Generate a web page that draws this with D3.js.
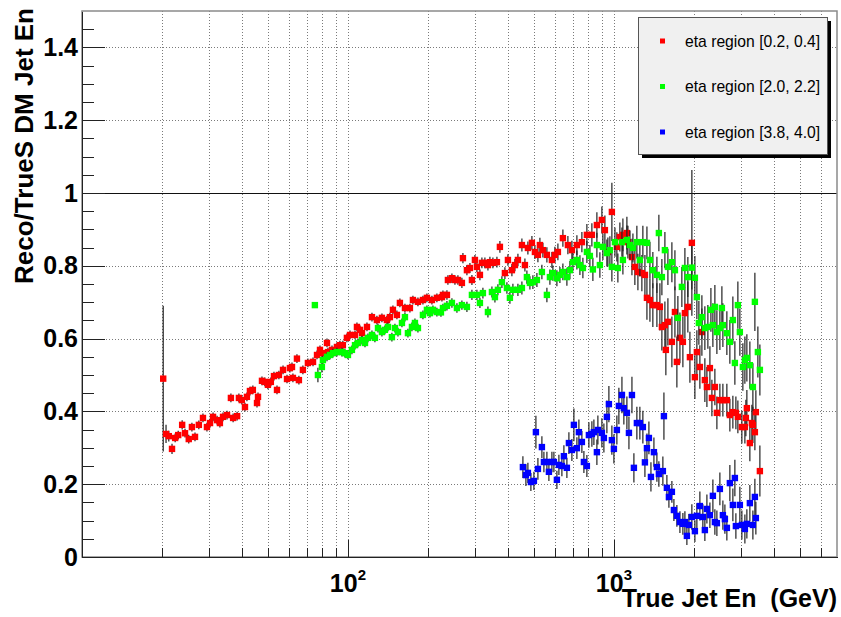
<!DOCTYPE html>
<html>
<head>
<meta charset="utf-8">
<script src="https://cdn.jsdelivr.net/npm/d3@7"></script>
<style>
body { margin: 0; background: #fff; }
svg { display: block; }
</style>
</head>
<body>
<script>
// [true jet energy (GeV), reco/true ratio, error]
var redPts = [[20.2,0.49,0.2],[20.7,0.338,0.025],[21.2,0.332,0.015],[21.8,0.297,0.014],[22.4,0.327,0.012],[23.0,0.335,0.012],[23.8,0.363,0.013],[24.4,0.34,0.012],[25.2,0.324,0.012],[25.9,0.357,0.012],[26.6,0.33,0.012],[27.5,0.363,0.012],[28.5,0.382,0.012],[29.5,0.357,0.012],[30.3,0.368,0.012],[31.1,0.385,0.012],[32.2,0.376,0.012],[33.0,0.368,0.012],[33.9,0.385,0.012],[35.1,0.39,0.012],[36.3,0.437,0.012],[37.0,0.382,0.012],[38.3,0.387,0.012],[38.9,0.437,0.012],[39.9,0.431,0.012],[41.0,0.412,0.012],[41.7,0.44,0.012],[42.8,0.456,0.012],[43.9,0.459,0.012],[45.5,0.423,0.012],[45.9,0.44,0.012],[47.5,0.484,0.012],[48.7,0.481,0.012],[50.0,0.473,0.012],[51.3,0.481,0.012],[52.7,0.497,0.012],[54.1,0.459,0.012],[55.0,0.5,0.012],[57.0,0.514,0.012],[59.0,0.489,0.012],[60.5,0.519,0.012],[61.6,0.522,0.012],[62.1,0.492,0.012],[64.3,0.545,0.012],[65.4,0.486,0.012],[67.7,0.514,0.012],[70.7,0.533,0.012],[73.9,0.536,0.012],[76.5,0.555,0.012],[78.5,0.569,0.012],[79.8,0.56,0.012],[83.4,0.588,0.012],[84.1,0.563,0.012],[87.1,0.569,0.012],[90.9,0.577,0.012],[93.3,0.582,0.012],[95.7,0.582,0.012],[99.1,0.602,0.012],[101.8,0.61,0.012],[106.3,0.61,0.012],[108.1,0.632,0.012],[111.0,0.624,0.012],[112.9,0.615,0.012],[117.9,0.632,0.012],[123.1,0.659,0.012],[128.5,0.651,0.012],[134.2,0.657,0.012],[140.1,0.651,0.012],[143.8,0.659,0.012],[147.6,0.679,0.012],[152.8,0.665,0.012],[156.8,0.698,0.012],[163.8,0.684,0.012],[171.0,0.684,0.012],[175.5,0.706,0.012],[183.3,0.701,0.012],[191.4,0.706,0.012],[198.1,0.712,0.012],[206.9,0.706,0.012],[216.0,0.712,0.012],[225.6,0.714,0.012],[227.6,0.72,0.012],[235.6,0.72,0.013],[237.6,0.761,0.013],[246.0,0.766,0.013],[252.5,0.761,0.013],[259.1,0.761,0.013],[268.2,0.753,0.014],[270.6,0.821,0.014],[280.1,0.788,0.014],[287.5,0.794,0.014],[292.5,0.761,0.014],[300.2,0.816,0.014],[305.4,0.797,0.014],[313.5,0.775,0.015],[318.9,0.808,0.015],[327.3,0.808,0.015],[336.0,0.802,0.015],[341.8,0.81,0.015],[350.8,0.808,0.015],[363.2,0.81,0.015],[372.7,0.852,0.016],[389.2,0.78,0.016],[399.5,0.816,0.016],[413.5,0.788,0.017],[424.4,0.802,0.017],[435.6,0.816,0.017],[450.9,0.857,0.018],[462.8,0.802,0.018],[474.9,0.849,0.018],[491.7,0.863,0.019],[504.6,0.838,0.019],[517.9,0.83,0.02],[526.9,0.857,0.02],[540.8,0.843,0.02],[559.8,0.83,0.021],[584.6,0.816,0.022],[600.0,0.83,0.022],[615.8,0.838,0.023],[643.0,0.876,0.024],[671.4,0.857,0.025],[695.1,0.843,0.026],[725.8,0.857,0.027],[757.9,0.865,0.028],[791.4,0.885,0.03],[826.4,0.885,0.032],[863.0,0.912,0.035],[901.2,0.926,0.037],[924.9,0.898,0.04],[949.2,0.838,0.04],[982.6,0.948,0.08],[1026,0.852,0.04],[1053,0.879,0.04],[1081,0.885,0.045],[1119,0.89,0.045],[1129,0.865,0.045],[1169,0.824,0.05],[1199,0.797,0.05],[1231,0.783,0.05],[1274,0.78,0.05],[1308,0.775,0.055],[1331,0.712,0.06],[1366,0.706,0.06],[1401,0.692,0.06],[1451,0.692,0.06],[1489,0.687,0.065],[1515,0.632,0.065],[1555,0.637,0.065],[1568,0.569,0.07],[1596,0.646,0.065],[1652,0.591,0.07],[1696,0.673,0.07],[1725,0.536,0.07],[1771,0.602,0.07],[1817,0.591,0.07],[1849,0.67,0.07],[1897,0.687,0.07],[1931,0.549,0.07],[1964,0.863,0.2],[2016,0.494,0.06],[2051,0.563,0.06],[2105,0.522,0.06],[2142,0.618,0.065],[2198,0.486,0.06],[2237,0.467,0.055],[2296,0.519,0.06],[2336,0.437,0.05],[2397,0.467,0.05],[2439,0.396,0.045],[2503,0.431,0.045],[2569,0.431,0.045],[2659,0.431,0.045],[2729,0.39,0.045],[2801,0.398,0.045],[2875,0.396,0.045],[2925,0.385,0.045],[3028,0.357,0.045],[3108,0.357,0.045],[3135,0.382,0.05],[3162,0.409,0.05],[3245,0.313,0.05],[3302,0.368,0.05],[3331,0.363,0.05],[3389,0.343,0.05],[3418,0.398,0.06],[3539,0.236,0.07]];

var greenPts = [[75.1,0.692,0.004],[77.1,0.50,0.02],[79.8,0.522,0.015],[80.5,0.541,0.012],[83.4,0.55,0.012],[85.6,0.555,0.012],[87.8,0.56,0.012],[90.9,0.563,0.012],[94.9,0.563,0.012],[97.4,0.56,0.012],[100,0.555,0.012],[103.5,0.569,0.012],[106.3,0.582,0.012],[109.0,0.588,0.012],[112.9,0.596,0.012],[115.9,0.588,0.012],[118.9,0.602,0.012],[123.1,0.61,0.012],[126.3,0.602,0.012],[129.7,0.629,0.012],[134.2,0.618,0.012],[137.7,0.624,0.012],[141.4,0.632,0.012],[146.3,0.604,0.012],[150.2,0.629,0.012],[154.2,0.618,0.012],[159.6,0.643,0.012],[163.8,0.659,0.012],[168.1,0.615,0.012],[174.0,0.632,0.012],[178.6,0.643,0.012],[183.3,0.629,0.012],[191.4,0.665,0.012],[198.1,0.679,0.012],[203.4,0.67,0.012],[208.7,0.679,0.012],[216.0,0.673,0.012],[223.7,0.672,0.012],[227.6,0.684,0.012],[235.6,0.69,0.013],[246.0,0.698,0.013],[256.9,0.684,0.013],[268.2,0.692,0.013],[280.1,0.687,0.014],[292.5,0.72,0.014],[305.4,0.72,0.014],[313.5,0.698,0.014],[321.7,0.725,0.015],[336.0,0.673,0.015],[347.8,0.728,0.015],[357.0,0.714,0.015],[366.3,0.734,0.015],[379.2,0.755,0.016],[396.0,0.739,0.016],[406.4,0.712,0.016],[417.1,0.734,0.017],[435.6,0.734,0.017],[450.9,0.739,0.018],[470.8,0.769,0.018],[483.3,0.753,0.018],[495.9,0.755,0.019],[513.4,0.761,0.019],[536.1,0.783,0.02],[559.8,0.72,0.02],[574.6,0.769,0.021],[589.7,0.78,0.021],[610.4,0.766,0.022],[626.5,0.775,0.022],[643.0,0.783,0.023],[665.6,0.769,0.024],[683.2,0.788,0.025],[701.1,0.81,0.025],[725.8,0.816,0.026],[745.0,0.802,0.027],[764.5,0.794,0.028],[791.4,0.838,0.03],[812.3,0.827,0.03],[833.6,0.79,0.032],[863.0,0.857,0.034],[885.7,0.802,0.035],[909.0,0.852,0.036],[941.0,0.835,0.037],[965.8,0.843,0.038],[982.6,0.797,0.04],[1009,0.865,0.04],[1035,0.794,0.04],[1072,0.865,0.04],[1081,0.816,0.04],[1119,0.871,0.04],[1149,0.857,0.04],[1179,0.849,0.04],[1220,0.865,0.045],[1252,0.816,0.045],[1285,0.865,0.045],[1331,0.863,0.045],[1366,0.816,0.05],[1401,0.788,0.05],[1451,0.775,0.05],[1476,0.89,0.05],[1515,0.769,0.05],[1555,0.843,0.05],[1596,0.797,0.05],[1652,0.81,0.055],[1696,0.788,0.055],[1740,0.657,0.06],[1801,0.742,0.055],[1849,0.794,0.055],[1897,0.769,0.055],[1964,0.795,0.06],[2016,0.767,0.06],[2051,0.714,0.06],[2087,0.643,0.06],[2142,0.659,0.06],[2198,0.629,0.06],[2256,0.632,0.06],[2316,0.679,0.06],[2356,0.637,0.06],[2397,0.687,0.06],[2439,0.618,0.06],[2503,0.629,0.06],[2547,0.684,0.06],[2569,0.637,0.06],[2659,0.615,0.06],[2729,0.591,0.06],[2801,0.651,0.065],[2850,0.533,0.06],[2925,0.692,0.065],[2976,0.618,0.065],[3054,0.522,0.065],[3108,0.541,0.065],[3162,0.547,0.065],[3245,0.527,0.065],[3331,0.467,0.065],[3389,0.701,0.08],[3478,0.563,0.07],[3539,0.514,0.07]];

var bluePts = [[454.8,0.247,0.03],[466.8,0.225,0.03],[474.9,0.231,0.028],[487.4,0.206,0.025],[500.3,0.209,0.025],[509.0,0.343,0.045],[517.9,0.242,0.03],[536.1,0.302,0.03],[545.5,0.261,0.028],[559.8,0.261,0.028],[569.6,0.234,0.025],[584.6,0.261,0.028],[594.8,0.261,0.028],[610.4,0.212,0.025],[621.1,0.253,0.028],[637.4,0.25,0.028],[648.6,0.277,0.03],[665.6,0.245,0.028],[677.3,0.313,0.03],[695.1,0.294,0.03],[707.2,0.363,0.045],[725.8,0.299,0.03],[738.5,0.343,0.035],[757.9,0.316,0.03],[771.2,0.261,0.03],[791.4,0.25,0.03],[805.3,0.335,0.035],[826.4,0.338,0.035],[840.9,0.343,0.035],[863.0,0.288,0.035],[870.5,0.349,0.04],[901.2,0.341,0.04],[916.9,0.327,0.04],[941.0,0.385,0.045],[957.5,0.42,0.05],[982.6,0.321,0.04],[1000,0.297,0.04],[1026,0.349,0.04],[1044,0.415,0.05],[1072,0.445,0.05],[1090,0.409,0.045],[1119,0.396,0.045],[1139,0.341,0.045],[1169,0.445,0.05],[1189,0.245,0.04],[1220,0.368,0.045],[1252,0.368,0.045],[1285,0.357,0.045],[1308,0.26,0.04],[1331,0.299,0.04],[1354,0.327,0.045],[1378,0.22,0.04],[1414,0.288,0.04],[1451,0.247,0.04],[1476,0.228,0.035],[1528,0.236,0.04],[1542,0.387,0.065],[1582,0.19,0.035],[1610,0.165,0.03],[1652,0.179,0.03],[1681,0.129,0.03],[1725,0.113,0.03],[1771,0.096,0.03],[1817,0.091,0.03],[1849,0.096,0.03],[1881,0.058,0.025],[1914,0.088,0.03],[1964,0.11,0.035],[2016,0.071,0.03],[2051,0.113,0.035],[2105,0.14,0.04],[2160,0.11,0.035],[2198,0.074,0.03],[2237,0.132,0.04],[2296,0.115,0.035],[2356,0.168,0.045],[2397,0.096,0.035],[2439,0.093,0.035],[2503,0.187,0.045],[2569,0.115,0.04],[2614,0.104,0.04],[2659,0.08,0.035],[2729,0.203,0.05],[2801,0.143,0.045],[2850,0.217,0.05],[2875,0.085,0.035],[2976,0.143,0.05],[3028,0.088,0.04],[3108,0.077,0.04],[3162,0.091,0.04],[3245,0.148,0.05],[3331,0.088,0.04],[3389,0.165,0.05],[3418,0.107,0.045]];

var seriesNames = ["eta region [0.2, 0.4]", "eta region [2.0, 2.2]", "eta region [3.8, 4.0]"];
var seriesColors = ["#ff0000", "#00ff00", "#0000ff"];
var yTicks = [0, 0.2, 0.4, 0.6, 0.8, 1, 1.2, 1.4];
var xDecades = [100, 1000];
var xDecadeExp = ["2", "3"];

var W = 841, H = 617;
var fr = {left: 82, top: 11, right: 837, bottom: 557};
var font = "'Liberation Sans', Arial, Helvetica, sans-serif";

var x = d3.scaleLog().domain([10, 6900]).range([fr.left, fr.right]);
var y = d3.scaleLinear().domain([0, 1.5]).range([fr.bottom, fr.top]);

var svg = d3.select("body").append("svg").attr("width", W).attr("height", H);
svg.append("rect").attr("width", W).attr("height", H).attr("fill", "#fff");

// dotted grid
var grid = svg.append("g")
	.attr("stroke", "#7a7a7a")
	.attr("stroke-dasharray", "1,2")
	.attr("shape-rendering", "crispEdges");

grid.selectAll(".gx")
	.data(x.ticks().filter(function(d){ return d > 10; }))
	.enter().append("line")
		.attr("x1", function(d){ return Math.round(x(d)) + 0.5; })
		.attr("x2", function(d){ return Math.round(x(d)) + 0.5; })
		.attr("y1", fr.top)
		.attr("y2", fr.bottom);

grid.selectAll(".gy")
	.data(yTicks.filter(function(d){ return d > 0; }))
	.enter().append("line")
		.attr("x1", fr.left)
		.attr("x2", fr.right)
		.attr("y1", function(d){ return Math.round(y(d)) + 0.5; })
		.attr("y2", function(d){ return Math.round(y(d)) + 0.5; });

// line at ratio 1
svg.append("line")
	.attr("x1", fr.left).attr("x2", fr.right)
	.attr("y1", Math.round(y(1)) + 0.5).attr("y2", Math.round(y(1)) + 0.5)
	.attr("stroke", "#111").attr("shape-rendering", "crispEdges");

// frame
svg.append("rect")
	.attr("x", fr.left).attr("y", fr.top)
	.attr("width", fr.right - fr.left).attr("height", fr.bottom - fr.top)
	.attr("fill", "none").attr("stroke", "#8a8a8a").attr("stroke-width", 1.5);

// axes: ticks point into the frame
function styleAxis(g){
	g.selectAll(".tick line").attr("stroke", "#222");
	g.select(".domain").attr("stroke", "#222");
	g.attr("shape-rendering", "crispEdges");
}

var yMinor = d3.range(0.05, 1.5, 0.05).filter(function(d){
	return Math.abs(d * 5 - Math.round(d * 5)) > 1e-6;
});

svg.append("g")
	.attr("transform", "translate(" + fr.left + ",0)")
	.call(d3.axisLeft(y).tickValues(yMinor).tickSizeInner(-12).tickSizeOuter(0).tickFormat(""))
	.call(styleAxis);

var yAx = svg.append("g")
	.attr("transform", "translate(" + fr.left + ",0)")
	.call(d3.axisLeft(y).tickValues(yTicks).tickSizeInner(-23).tickSizeOuter(0).tickPadding(4)
		.tickFormat(function(d){ return String(+d.toFixed(1)); }))
	.call(styleAxis);

yAx.selectAll("text")
	.attr("font-family", font).attr("font-size", 25).attr("font-weight", "bold").attr("fill", "#000");

var xMinor = x.ticks().filter(function(d){ return xDecades.indexOf(d) < 0 && d > 10; });

svg.append("g")
	.attr("transform", "translate(0," + fr.bottom + ")")
	.call(d3.axisBottom(x).tickValues(xMinor).tickSizeInner(-9).tickSizeOuter(0).tickFormat(""))
	.call(styleAxis);

svg.append("g")
	.attr("transform", "translate(0," + fr.bottom + ")")
	.call(d3.axisBottom(x).tickValues(xDecades).tickSizeInner(-17).tickSizeOuter(0).tickFormat(""))
	.call(styleAxis);

// x tick labels 10^n
var xl = svg.selectAll(".xlab")
	.data(xDecades)
	.enter().append("text")
		.attr("x", function(d){ return x(d); })
		.attr("y", 592)
		.attr("text-anchor", "middle")
		.attr("font-family", font).attr("font-weight", "bold").attr("fill", "#000");
xl.append("tspan").attr("font-size", 25).text("10");
xl.append("tspan").attr("font-size", 15).attr("dy", -12).text(function(d, i){ return xDecadeExp[i]; });

// data series: error bars then markers
var allSeries = [redPts, greenPts, bluePts];
allSeries.forEach(function(pts, i){
	var g = svg.append("g");
	g.selectAll("line")
		.data(pts)
		.enter().append("line")
			.attr("x1", function(d){ return x(d[0]); })
			.attr("x2", function(d){ return x(d[0]); })
			.attr("y1", function(d){ return y(d[1] - d[2]); })
			.attr("y2", function(d){ return y(Math.min(d[1] + d[2], 1.5)); })
			.attr("stroke", "#222")
			.attr("stroke-width", 1.2);
	g.selectAll("rect")
		.data(pts)
		.enter().append("rect")
			.attr("x", function(d){ return x(d[0]) - 3.2; })
			.attr("y", function(d){ return y(d[1]) - 3.2; })
			.attr("width", 6.4)
			.attr("height", 6.4)
			.attr("fill", seriesColors[i]);
});

// legend
var lg = {x: 638, y: 17, w: 189, h: 137};
svg.append("rect")
	.attr("x", lg.x + 4).attr("y", lg.y + 4).attr("width", lg.w).attr("height", lg.h)
	.attr("fill", "#000");
svg.append("rect")
	.attr("x", lg.x + 0.5).attr("y", lg.y + 0.5).attr("width", lg.w).attr("height", lg.h)
	.attr("fill", "#f0f0f0").attr("stroke", "#555");

var ly = d3.scalePoint().domain(seriesNames).range([lg.y + 24, lg.y + 115]);
var le = svg.selectAll(".leg")
	.data(seriesNames)
	.enter().append("g")
		.attr("transform", function(d){ return "translate(0," + ly(d) + ")"; });
le.append("rect")
	.attr("x", 660).attr("y", -2.5).attr("width", 5).attr("height", 5)
	.attr("fill", function(d, i){ return seriesColors[i]; });
le.append("text")
	.attr("x", 685).attr("y", 5.5)
	.attr("font-family", font).attr("font-size", 15.7).attr("fill", "#000")
	.text(function(d){ return d; });

// axis titles
svg.append("text")
	.attr("x", fr.right).attr("y", 607)
	.attr("text-anchor", "end")
	.attr("font-family", font).attr("font-size", 25).attr("font-weight", "bold")
	.style("white-space", "pre")
	.text("True Jet En  (GeV)");

svg.append("text")
	.attr("transform", "translate(33,8) rotate(-90)")
	.attr("text-anchor", "end")
	.attr("font-family", font).attr("font-size", 26).attr("font-weight", "bold")
	.text("Reco/TrueS DM Jet En");
</script>
</body>
</html>
